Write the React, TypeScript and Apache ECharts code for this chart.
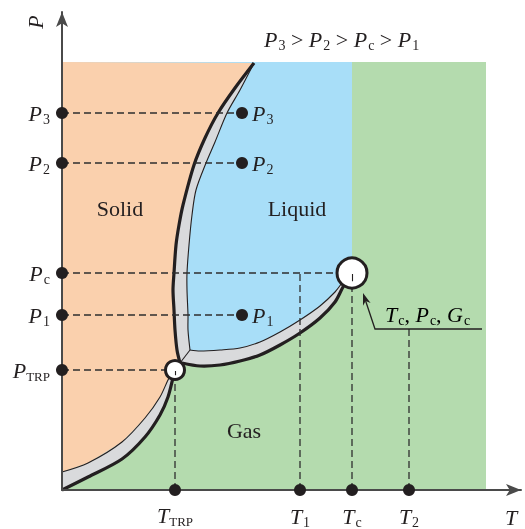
import React, { useEffect, useRef } from "react";
import * as echarts from "echarts";

type Pt = [number, number];

// ---- axis / region extents (data units: T to the right, P upward) ----
const T_AXIS_MAX = 459;
const P_AXIS_MAX = 478;
const T_REGION_MAX = 424;
const P_REGION_MAX = 428;
const T_LIQUID_EDGE = 290;

// ---- tick labels and their values ----
const pressureSubs = ["3", "2", "c", "1", "TRP"];
const pressureValues = [377, 327, 217, 175, 120];
const temperatureSubs = ["TRP", "1", "c", "2"];
const temperatureValues = [113, 238, 290, 347];

// sample points inside the liquid region
const samplePointT = 180;
const samplePointSubs = ["3", "2", "1"];
const samplePointP = [377, 327, 175];

// special points
const triplePoint: Pt = [113, 120];
const criticalPoint: Pt = [290, 217];

// ---- phase boundary curves (each drawn as a band: thick side + thin side) ----
const sublimationGasSide: Pt[] = [[0, 0], [26, 13], [60, 31], [83, 53], [98, 75], [106, 93], [111, 112], [114, 122]];
const sublimationSolidSide: Pt[] = [[0, 18], [26, 27], [60, 48], [83, 72], [98, 93], [107, 112], [113, 121]];
const meltingSolidSide: Pt[] = [[118, 127], [115, 140], [113, 160], [112, 180], [111, 200], [112, 217], [114, 245], [117, 265], [121, 285], [132, 325], [143, 352], [156, 377], [173, 402], [192, 427]];
const meltingLiquidSide: Pt[] = [[128, 140], [126, 160], [126, 175], [125, 200], [125, 217], [127, 245], [130, 275], [134, 300], [144, 327], [153, 348], [165, 377], [178, 400], [192, 427]];
const vaporGasSide: Pt[] = [[120, 127], [138, 124], [158, 125], [178, 129], [198, 135], [218, 145], [238, 157], [258, 172], [273, 188], [281, 203], [287, 212]];
const vaporLiquidSide: Pt[] = [[128, 140], [138, 139], [158, 140], [178, 142], [198, 148], [218, 158], [238, 170], [258, 184], [273, 198], [280, 207], [285, 213]];

// annotation of the critical point
const annotationElbow: Pt = [313, 161];
const annotationTip: Pt = [301, 197];
const annotationEnd: Pt = [420, 161];
const annotationTextAt: Pt = [323, 176];

// region names
const regionNames = ["Solid", "Liquid", "Gas"];
const regionPositions: Pt[] = [[58, 282], [235, 282], [182, 60]];

const SERIF = '"Liberation Serif", "Times New Roman", serif';
const INK = "#231f20";
const ORANGE = "#fad0ad";
const BLUE = "#a8def8";
const GREEN = "#b4dbae";
const GRAY = "#d9dadc";
const DASH = "#2e2e2e";

const rich: any = {
  i: { fontFamily: SERIF, fontStyle: "italic", fontWeight: "normal", fontSize: 22, color: INK },
  s: { fontFamily: SERIF, fontWeight: "normal", fontSize: 14, color: INK, padding: [12, 0, 0, 1] },
  t: { fontFamily: SERIF, fontWeight: "normal", fontSize: 13, color: INK, padding: [12, 0, 0, 0] },
  n: { fontFamily: SERIF, fontWeight: "normal", fontSize: 22, color: INK },
};

const sub = (s: string) => (s === "TRP" ? `{t|${s}}` : `{s|${s}}`);

function shapeSeries(z: number, build: (c: (p: Pt) => number[]) => any) {
  return {
    type: "custom",
    coordinateSystem: "cartesian2d",
    z,
    silent: true,
    clip: false,
    data: [[0, 0]],
    renderItem: (_p: any, api: any) => build((p: Pt) => api.coord(p)),
  };
}

const rev = (a: Pt[]) => a.slice().reverse();

export default function App() {
  const ref = useRef<HTMLDivElement>(null);
  useEffect(() => {
    if (!ref.current) return;
    const chart = echarts.init(ref.current, null, { renderer: "svg" });

    const bluePoly: Pt[] = [[0, P_REGION_MAX], [T_LIQUID_EDGE, P_REGION_MAX], [T_LIQUID_EDGE, criticalPoint[1]], ...rev(vaporGasSide), [0, vaporGasSide[0][1]]];
    const orangePoly: Pt[] = [[0, P_REGION_MAX], ...rev(meltingSolidSide), triplePoint, ...rev(sublimationSolidSide)];
    const band1: Pt[] = [...sublimationGasSide, ...rev(sublimationSolidSide)];
    const band2: Pt[] = [...rev(meltingSolidSide), ...vaporGasSide, ...rev(vaporLiquidSide), ...meltingLiquidSide];

    const horizontalGuideEnds = [samplePointT, samplePointT, criticalPoint[0], samplePointT, triplePoint[0]];
    const verticalGuideTops = [triplePoint[1], pressureValues[2], criticalPoint[1], annotationElbow[1]];
    const guides: Pt[][] = [
      ...pressureValues.map((p, i) => [[0, p], [horizontalGuideEnds[i], p]] as Pt[]),
      ...temperatureValues.map((t, i) => [[t, 0], [t, verticalGuideTops[i]]] as Pt[]),
    ];

    const axisCommon = {
      type: "value",
      z: 10,
      axisLine: { show: true, lineStyle: { color: "#4a4a4a", width: 2 }, symbol: ["none", "arrow"], symbolSize: [9, 15] },
      axisTick: { show: false },
      axisLabel: { show: false },
      splitLine: { show: false },
    };

    const dotSeries = (data: any[], position: string, distance: number, letter: string) => ({
      type: "scatter",
      z: 11,
      symbol: "circle",
      symbolSize: 12,
      itemStyle: { color: INK, opacity: 1 },
      silent: true,
      data,
      label: { show: true, position, distance, formatter: (p: any) => `{i|${letter}}${sub(p.name)}`, rich },
    });

    const option: any = {
      animation: false,
      textStyle: { fontFamily: SERIF },
      grid: { left: 62, right: 4, top: 12, bottom: 39 },
      xAxis: { ...axisCommon, min: 0, max: T_AXIS_MAX },
      yAxis: { ...axisCommon, min: 0, max: P_AXIS_MAX },
      title: {
        left: 259,
        top: 21,
        text: ["3", "2", "c", "1"].map((s) => `{i|P}${sub(s)}`).join("{n| > }"),
        textStyle: { rich, fontFamily: SERIF, fontSize: 22, fontWeight: "normal", color: INK },
      },
      graphic: [
        { type: "text", x: 35, y: 22, rotation: Math.PI / 2, style: { text: "P", font: `italic 22px ${SERIF}`, fill: INK, align: "center", verticalAlign: "middle" } },
        { type: "text", x: 511, y: 517, style: { text: "T", font: `italic 22px ${SERIF}`, fill: INK, align: "center", verticalAlign: "middle" } },
      ],
      series: [
        shapeSeries(1, (c) => ({ type: "polygon", shape: { points: [[0, 0], [T_REGION_MAX, 0], [T_REGION_MAX, P_REGION_MAX], [0, P_REGION_MAX]].map((p) => c(p as Pt)) }, style: { fill: GREEN } })),
        shapeSeries(2, (c) => ({ type: "polygon", shape: { points: bluePoly.map(c) }, style: { fill: BLUE } })),
        shapeSeries(3, (c) => ({ type: "polygon", shape: { points: orangePoly.map(c) }, style: { fill: ORANGE } })),
        shapeSeries(4, (c) => ({
          type: "group",
          children: [
            { type: "polygon", shape: { points: band1.map(c) }, style: { fill: GRAY } },
            { type: "polygon", shape: { points: band2.map(c) }, style: { fill: GRAY } },
          ],
        })),
        shapeSeries(5, (c) => ({
          type: "group",
          children: [sublimationSolidSide, meltingLiquidSide, vaporLiquidSide, [meltingLiquidSide[0], meltingSolidSide[0]]].map((line) => ({
            type: "polyline",
            shape: { points: line.map(c), smooth: 0.3 },
            style: { stroke: INK, lineWidth: 1.1, fill: "none" },
          })),
        })),
        shapeSeries(6, (c) => ({
          type: "group",
          children: [sublimationGasSide, meltingSolidSide, vaporGasSide].map((line) => ({
            type: "polyline",
            shape: { points: line.map(c), smooth: 0.3 },
            style: { stroke: INK, lineWidth: 3.2, fill: "none", lineJoin: "round" },
          })),
        })),
        shapeSeries(7, (c) => ({
          type: "group",
          children: guides.map((g) => ({
            type: "polyline",
            shape: { points: g.map(c) },
            style: { stroke: DASH, lineWidth: 1.3, lineDash: [7, 4], fill: "none" },
          })),
        })),
        shapeSeries(8, (c) => {
          const circ = (p: Pt, r: number) => {
            const q = c(p);
            return [
              { type: "circle", shape: { cx: q[0], cy: q[1], r }, style: { fill: "#ffffff", stroke: INK, lineWidth: 3 } },
              { type: "line", shape: { x1: q[0] + 0.5, y1: q[1] + 1, x2: q[0] + 0.5, y2: q[1] + r * 0.55 }, style: { stroke: INK, lineWidth: 1.1 } },
            ];
          };
          return { type: "group", children: [...circ(triplePoint, 9.5), ...circ(criticalPoint, 15)] };
        }),
        shapeSeries(8, (c) => {
          const e = c(annotationElbow), t = c(annotationTip), end = c(annotationEnd), tp = c(annotationTextAt);
          const dx = t[0] - e[0], dy = t[1] - e[1];
          const len = Math.hypot(dx, dy);
          const ux = dx / len, uy = dy / len;
          const hl = 12, hw = 4;
          const base = [t[0] - ux * hl, t[1] - uy * hl];
          const notch = [t[0] - ux * hl * 0.7, t[1] - uy * hl * 0.7];
          const left = [base[0] - uy * hw, base[1] + ux * hw];
          const right = [base[0] + uy * hw, base[1] - ux * hw];
          return {
            type: "group",
            children: [
              { type: "polyline", shape: { points: [end, e, notch] }, style: { stroke: INK, lineWidth: 1.3, fill: "none" } },
              { type: "polygon", shape: { points: [t, left, notch, right] }, style: { fill: INK } },
              {
                type: "text",
                x: tp[0],
                y: tp[1],
                style: {
                  text: `{i|T}${sub("c")}{n|, }{i|P}${sub("c")}{n|, }{i|G}${sub("c")}`,
                  rich,
                  fontFamily: SERIF,
                  fontSize: 22,
                  align: "left",
                  verticalAlign: "middle",
                },
              },
            ],
          };
        }),
        dotSeries(pressureValues.map((v, i) => ({ value: [0, v], name: pressureSubs[i] })), "left", 6, "P"),
        dotSeries(temperatureValues.map((v, i) => ({ value: [v, 0], name: temperatureSubs[i] })), "bottom", 7, "T"),
        dotSeries(samplePointP.map((v, i) => ({ value: [samplePointT, v], name: samplePointSubs[i] })), "right", 4, "P"),
        {
          type: "scatter",
          z: 11,
          symbolSize: 0,
          silent: true,
          itemStyle: { opacity: 1 },
          data: regionNames.map((n, i) => ({ value: regionPositions[i], name: n })),
          label: { show: true, position: "inside", formatter: (p: any) => p.name, fontFamily: SERIF, fontSize: 22, color: INK },
        },
      ],
    };
    chart.setOption(option);
    return () => chart.dispose();
  }, []);
  return <div ref={ref} style={{ position: "fixed", left: 0, top: 0, width: 525, height: 529 }} />;
}
